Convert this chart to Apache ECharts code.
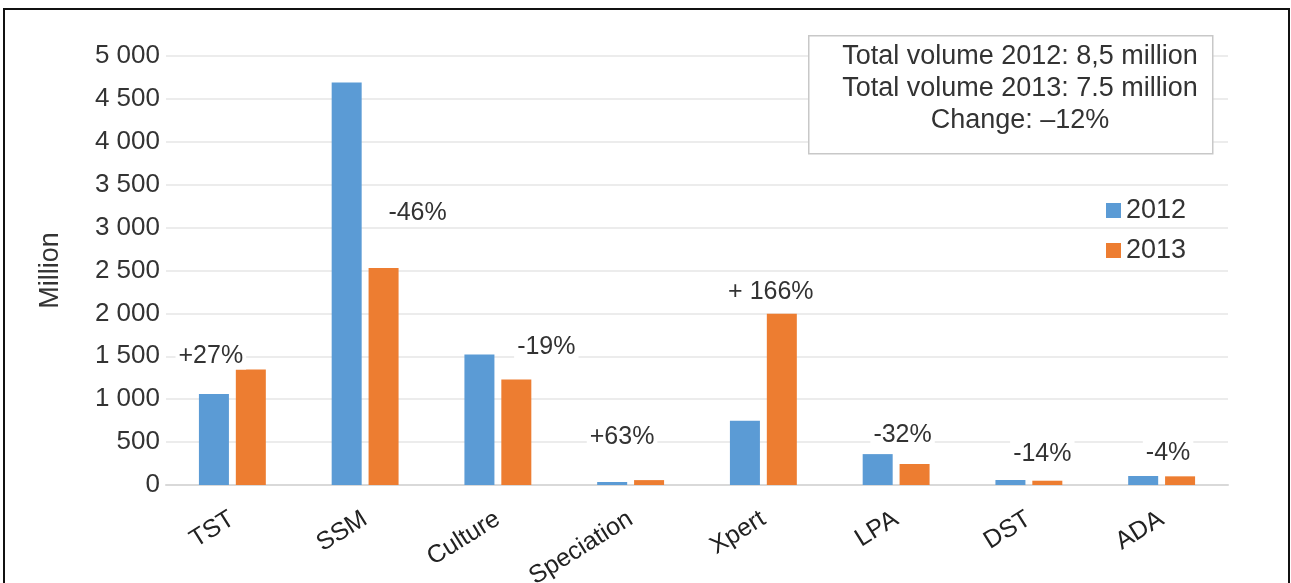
<!DOCTYPE html>
<html>
<head>
<meta charset="utf-8">
<title>Test volumes 2012 vs 2013</title>
<script src="https://cdn.jsdelivr.net/npm/echarts@6/dist/echarts.min.js"></script>
<style>
  html, body { margin: 0; padding: 0; background: #fff; }
  #chart { width: 1291px; height: 583px; }
</style>
</head>
<body>
<div id="chart"></div>
<script>
// Test types along the x axis
const categories = ['TST', 'SSM', 'Culture', 'Speciation', 'Xpert', 'LPA', 'DST', 'ADA'];
// Volumes in millions (as plotted on the y axis scale)
const vol2012 = [1060, 4690, 1520, 35, 750, 360, 58, 105];
const vol2013 = [1345, 2530, 1230, 57, 1995, 245, 50, 101];
// Change from 2012 to 2013, shown above each pair
const changeLabels = ['+27%', '-46%', '-19%', '+63%', '+ 166%', '-32%', '-14%', '-4%'];
// Summary box lines
const summaryLines = ['Total volume 2012: 8,5 million', 'Total volume 2013: 7.5 million', 'Change: \u201312%'];
const seriesNames = ['2012', '2013'];

// Where each change label sits relative to the top of the 2013 bar
const labelOffsets = [[-40, 0], [34, -42], [30, -19], [-27, -30], [-11, -9], [-12, -16], [-5, -14], [-12, -10]];

const FONT = 'Liberation Sans, Arial, Helvetica, sans-serif';
const TEXT = '#333333';

function spaced(v) {
  return String(v).replace(/\B(?=(\d{3})+(?!\d))/g, ' ');
}

const chart = echarts.init(document.getElementById('chart'), null, { renderer: 'canvas' });

chart.setOption({
  animation: false,
  backgroundColor: '#ffffff',
  color: ['#5B9BD5', '#ED7D31'],
  textStyle: { fontFamily: FONT },
  grid: { left: 166, right: 63, top: 56, bottom: 98, containLabel: false, outerBoundsMode: 'none' },
  legend: {
    data: seriesNames,
    orient: 'vertical',
    left: 1101,
    top: 192,
    itemWidth: 15,
    itemHeight: 15,
    itemGap: 13,
    icon: 'rect',
    textStyle: { fontFamily: FONT, fontSize: 27, color: TEXT }
  },
  xAxis: {
    type: 'category',
    data: categories,
    axisLine: { show: true, lineStyle: { color: '#d9d9d9', width: 2 } },
    axisTick: { show: false },
    axisLabel: {
      rotate: 32,
      margin: 32,
      fontFamily: FONT,
      fontSize: 25,
      color: '#222222',
      interval: 0
    }
  },
  yAxis: {
    type: 'value',
    min: 0,
    max: 5000,
    interval: 500,
    name: 'Million',
    nameLocation: 'middle',
    nameGap: 102,
    nameRotate: 90,
    nameTextStyle: { fontFamily: FONT, fontSize: 27, color: TEXT },
    axisLine: { show: false },
    axisTick: { show: false },
    axisLabel: {
      margin: 6,
      fontFamily: FONT,
      fontSize: 26,
      color: TEXT,
      formatter: spaced
    },
    splitLine: { show: true, lineStyle: { color: '#e6e6e6', width: 1.5 } }
  },
  series: [
    {
      name: seriesNames[0],
      type: 'bar',
      data: vol2012,
      barWidth: 30,
      barGap: '23%',
      itemStyle: { color: '#5B9BD5' }
    },
    {
      name: seriesNames[1],
      type: 'bar',
      data: vol2013.map((v, i) => ({
        value: v,
        label: {
          show: true,
          position: 'top',
          distance: 0,
          offset: labelOffsets[i],
          formatter: changeLabels[i]
        }
      })),
      barWidth: 30,
      itemStyle: { color: '#ED7D31' },
      label: {
        fontFamily: FONT,
        fontSize: 25,
        color: TEXT,
        backgroundColor: '#ffffff',
        padding: [0, 3],
        lineHeight: 26
      }
    }
  ],
  graphic: [
    {
      type: 'rect',
      left: 808,
      top: 35,
      shape: { width: 404, height: 118 },
      style: { fill: '#ffffff', stroke: '#c8c8c8', lineWidth: 1.5 },
      z: 10
    },
    {
      type: 'text',
      x: 1020,
      y: 41,
      style: {
        text: summaryLines.join('\n'),
        font: '27px ' + FONT,
        fill: TEXT,
        align: 'center',
        lineHeight: 32
      },
      z: 11
    },
    {
      type: 'rect',
      shape: { x: 4, y: 9, width: 1285, height: 700 },
      style: { fill: 'none', stroke: '#111111', lineWidth: 2 },
      z: 20,
      silent: true
    }
  ]
});
</script>
</body>
</html>
